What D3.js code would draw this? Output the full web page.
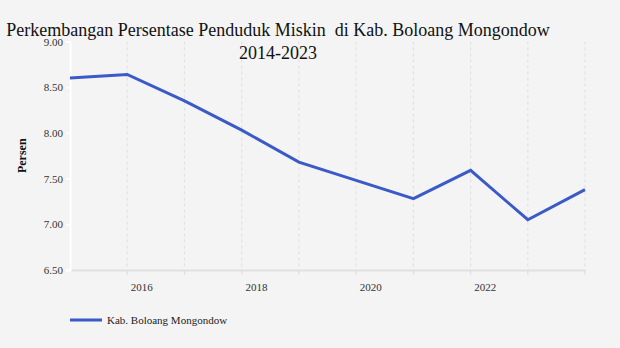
<!DOCTYPE html>
<html>
<head>
<meta charset="utf-8">
<script src="https://cdn.jsdelivr.net/npm/d3@7"></script>
<style>
  html, body { margin: 0; padding: 0; background: #f4f4f4; }
  svg { display: block; }
</style>
</head>
<body>
<svg id="chart" width="620" height="348"></svg>
<script>
const years = [2014, 2015, 2016, 2017, 2018, 2019, 2020, 2021, 2022, 2023];
const values = [8.60, 8.64, 8.35, 8.03, 7.68, 7.48, 7.28, 7.59, 7.05, 7.38];
const yTicks = [6.5, 7.0, 7.5, 8.0, 8.5, 9.0];
const xTickYears = [2016, 2018, 2020, 2022];
const seriesName = "Kab. Boloang Mongondow";
const titleLines = ["Perkembangan Persentase Penduduk Miskin  di Kab. Boloang Mongondow", "2014-2023"];

(function () {
const svg = d3.select("#chart");
const font = "'Liberation Serif', 'Times New Roman', serif";
const color = "#3a5bc7";

svg.append("rect").attr("width", 620).attr("height", 348).attr("fill", "#f4f4f4");

const mLeft = 70, mRight = 585, mTop = 41.5, mBottom = 270;
const dates = years.map(yr => new Date(yr, 11, 31));
const x = d3.scaleTime().domain([dates[0], dates[dates.length - 1]]).range([mLeft, mRight]);
const y = d3.scaleLinear().domain([6.5, 9.0]).range([mBottom, mTop]);

// vertical dashed grid lines
svg.append("g").selectAll("line").data(dates).join("line")
  .attr("x1", d => x(d)).attr("x2", d => x(d))
  .attr("y1", mTop).attr("y2", mBottom)
  .attr("stroke", "#e2e2e2").attr("stroke-width", 1.2)
  .attr("stroke-dasharray", "3,3");

// x axis
const xAxis = d3.axisBottom(x)
  .tickValues(xTickYears.map(yr => new Date(yr, 0, 1)))
  .tickFormat(d3.timeFormat("%Y"))
  .tickSize(0);
const gx = svg.append("g").attr("transform", `translate(0,${mBottom})`).call(xAxis);
gx.select(".domain").attr("stroke", "#e0e0e0").attr("stroke-width", 2);
gx.selectAll("text").attr("font-family", font).attr("font-size", 11).attr("fill", "#333")
  .attr("text-anchor", "start").attr("dx", 3).attr("dy", "1.6em");
// small ticks at each year
svg.append("g").selectAll("line").data(dates.slice(1)).join("line")
  .attr("x1", d => x(d)).attr("x2", d => x(d))
  .attr("y1", mBottom).attr("y2", mBottom + 5)
  .attr("stroke", "#e0e0e0").attr("stroke-width", 1.2);

// y axis
const yAxis = d3.axisLeft(y).tickValues(yTicks).tickFormat(d3.format(".2f")).tickSize(4).tickPadding(3);
const gy = svg.append("g").attr("transform", `translate(${mLeft},0)`).call(yAxis);
gy.select(".domain").attr("stroke", "#ffffff").attr("stroke-width", 2);
gy.selectAll(".tick line").attr("stroke", "#ffffff").attr("stroke-width", 1.5);
gy.selectAll("text").attr("font-family", font).attr("font-size", 11).attr("fill", "#333");

svg.append("text")
  .attr("transform", `translate(26,${(mTop + mBottom) / 2}) rotate(-90)`)
  .attr("text-anchor", "middle")
  .attr("font-family", font).attr("font-size", 12).attr("font-weight", "bold").attr("fill", "#111")
  .text("Persen");

// line
const line = d3.line().x((d, i) => x(dates[i])).y(d => y(d));
svg.append("path").datum(values)
  .attr("d", line)
  .attr("fill", "none").attr("stroke", color).attr("stroke-width", 3)
  .attr("stroke-linejoin", "miter");

// title
svg.append("g").selectAll("text").data(titleLines).join("text")
  .attr("x", 278).attr("y", (d, i) => 36 + i * 23)
  .attr("text-anchor", "middle")
  .attr("font-family", font).attr("font-size", 18).attr("fill", "#111")
  .style("white-space", "pre")
  .text(d => d);

// legend
svg.append("line").attr("x1", 70).attr("x2", 102).attr("y1", 320).attr("y2", 320)
  .attr("stroke", color).attr("stroke-width", 3);
svg.append("text").attr("x", 107).attr("y", 324)
  .attr("font-family", font).attr("font-size", 11).attr("fill", "#222")
  .text(seriesName);
})();
</script>
</body>
</html>
